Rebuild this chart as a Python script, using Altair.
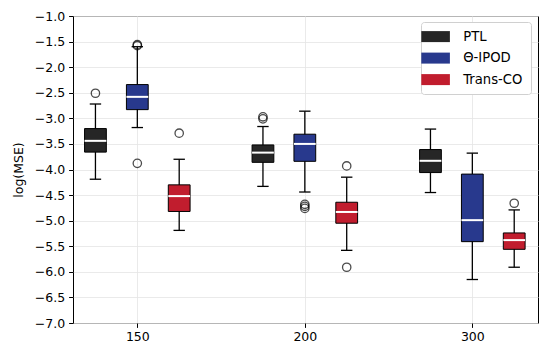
import json
import altair as alt
import pandas as pd

groups = ["150", "200", "300"]
methods = ["PTL", "Θ-IPOD", "Trans-CO"]
colors = ["#262626", "#28398d", "#c11d2e"]

# box statistics per method, listed in group order (150, 200, 300)
q1 = {
    "PTL": [-3.66, -3.86, -4.06],
    "Θ-IPOD": [-2.83, -3.84, -5.41],
    "Trans-CO": [-4.82, -5.05, -5.56],
}
median = {
    "PTL": [-3.44, -3.67, -3.83],
    "Θ-IPOD": [-2.58, -3.50, -4.99],
    "Trans-CO": [-4.52, -4.83, -5.38],
}
q3 = {
    "PTL": [-3.20, -3.52, -3.61],
    "Θ-IPOD": [-2.34, -3.31, -4.09],
    "Trans-CO": [-4.30, -4.64, -5.24],
}
whisker_lo = {
    "PTL": [-4.19, -4.33, -4.45],
    "Θ-IPOD": [-3.18, -4.44, -6.15],
    "Trans-CO": [-5.19, -5.58, -5.91],
}
whisker_hi = {
    "PTL": [-2.72, -3.16, -3.21],
    "Θ-IPOD": [-1.60, -2.86, -3.68],
    "Trans-CO": [-3.80, -4.15, -4.79],
}
outliers = {
    "PTL": [[-2.51], [-2.97, -3.01], []],
    "Θ-IPOD": [[-1.56, -1.58, -3.88], [-4.68, -4.72, -4.76], []],
    "Trans-CO": [[-3.29], [-3.93, -5.91], [-4.66]],
}
y_ticks = [-1.0, -1.5, -2.0, -2.5, -3.0, -3.5, -4.0, -4.5, -5.0, -5.5, -6.0, -6.5, -7.0]

box_rows, out_rows = [], []
for mi, m in enumerate(methods):
    for gi, g in enumerate(groups):
        box_rows.append(dict(method=m, mi=mi, gi=gi, group=g,
                             q1=q1[m][gi], med=median[m][gi], q3=q3[m][gi],
                             lo=whisker_lo[m][gi], hi=whisker_hi[m][gi]))
        for v in outliers[m][gi]:
            out_rows.append(dict(method=m, mi=mi, gi=gi, group=g, v=v))
box_df = pd.DataFrame(box_rows)
out_df = pd.DataFrame(out_rows)

FS = 12.5
xscale = alt.Scale(domain=[-0.384, 2.392], nice=False, zero=False)
yscale = alt.Scale(domain=[-7, -1], nice=False, zero=False)
label_expr = json.dumps(groups) + "[round(datum.value)]"
xaxis = alt.Axis(values=[0, 1, 2], labelExpr=label_expr, title=None, grid=True,
                 tickSize=4.4, labelPadding=3, domain=False, labelOverlap=False)
yaxis = alt.Axis(values=y_ticks, format=".1f", title="log(MSE)", grid=True,
                 tickSize=4.4, labelPadding=4, domain=False, titlePadding=9,
                 labelOverlap=False, labelBound=False, labelFlush=False)

base_box = alt.Chart(box_df).transform_calculate(
    pos="datum.gi + (datum.mi - 1) * 0.25",
    left="datum.gi + (datum.mi - 1) * 0.25 - 0.065",
    right="datum.gi + (datum.mi - 1) * 0.25 + 0.065",
    capl="datum.gi + (datum.mi - 1) * 0.25 - 0.034",
    capr="datum.gi + (datum.mi - 1) * 0.25 + 0.034",
)

whiskers = base_box.mark_rule(color="black", strokeWidth=1.3).encode(
    x=alt.X("pos:Q", scale=xscale, axis=xaxis),
    y=alt.Y("lo:Q", scale=yscale, axis=yaxis),
    y2="hi:Q",
)
cap_lo = base_box.mark_rule(color="black", strokeWidth=1.3).encode(
    x=alt.X("capl:Q", scale=xscale, axis=xaxis), x2="capr:Q",
    y=alt.Y("lo:Q", scale=yscale, axis=yaxis))
cap_hi = base_box.mark_rule(color="black", strokeWidth=1.3).encode(
    x=alt.X("capl:Q", scale=xscale, axis=xaxis), x2="capr:Q",
    y=alt.Y("hi:Q", scale=yscale, axis=yaxis))

boxes = base_box.mark_rect(stroke="black", strokeWidth=1).encode(
    x=alt.X("left:Q", scale=xscale, axis=xaxis), x2="right:Q",
    y=alt.Y("q1:Q", scale=yscale, axis=yaxis), y2="q3:Q",
    fill=alt.Fill("method:N", scale=alt.Scale(domain=methods, range=colors),
                  sort=methods,
                  legend=alt.Legend(title=None, orient="none", legendX=348, legendY=6,
                                    symbolType="M-2.6,-1H2.6V1H-2.6Z", symbolSize=121,
                                    symbolStrokeWidth=0, labelOffset=21,
                                    labelFontSize=13.2, rowPadding=7.5,
                                    padding=8, strokeColor="#d0d0d0",
                                    fillColor="white", cornerRadius=3)),
)
medians = base_box.mark_rule(color="white", strokeWidth=2).encode(
    x=alt.X("left:Q", scale=xscale, axis=xaxis), x2="right:Q",
    y=alt.Y("med:Q", scale=yscale, axis=yaxis))

points = alt.Chart(out_df).transform_calculate(
    pos="datum.gi + (datum.mi - 1) * 0.25"
).mark_point(shape="circle", filled=False, color="black", size=70, strokeWidth=1.3).encode(
    x=alt.X("pos:Q", scale=xscale, axis=xaxis), y=alt.Y("v:Q", scale=yscale, axis=yaxis))

chart = alt.layer(whiskers, cap_lo, cap_hi, boxes, medians, points).properties(
    width=465, height=307,
    autosize=alt.AutoSizeParams(type="none"),
    padding={"left": 65, "top": 8, "right": 2, "bottom": 26},
).configure(font="DejaVu Sans").configure_view(
    stroke="black", strokeWidth=1
).configure_axis(
    labelFontSize=FS, titleFontSize=FS, titleFontWeight="normal",
    labelColor="black", titleColor="black", tickColor="black",
    gridColor="#e4e4e4", gridWidth=0.8, labelOverlap=False,
).configure_legend(labelColor="black")

chart.save("out.html", embed_options={"renderer": "svg", "actions": False})
